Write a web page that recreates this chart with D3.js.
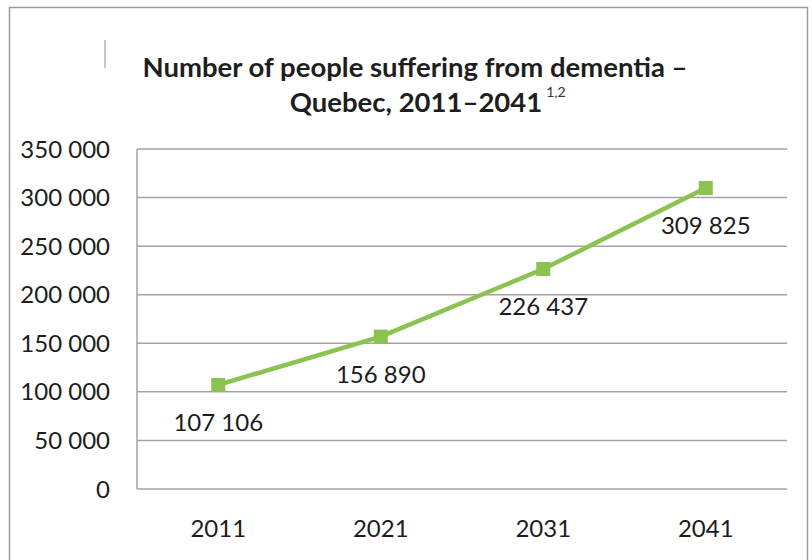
<!DOCTYPE html>
<html>
  <head>
    <meta charset="utf-8">
    <title>Dementia in Quebec</title>
    <script src="https://d3js.org/d3.v7.min.js"></script>
    <style>
      body {
        margin: 0;
        background: #fff;
        font-family: Lato, "Open Sans", sans-serif;
      }
      .grid line {
        stroke: #a3a3a3;
        stroke-width: 1.5px;
      }
      .tick-label {
        font-size: 24px;
        fill: #1c1c1c;
      }
      .title {
        font-size: 27.5px;
        font-weight: bold;
        fill: #1e1e1e;
      }
    </style>
  </head>
  <body>
    <div id="chart"></div>
    <script>
      // data
      const years = ["2011", "2021", "2031", "2041"];
      const people = [107106, 156890, 226437, 309825];
      const yTicks = [0, 50000, 100000, 150000, 200000, 250000, 300000, 350000];

      const width = 812, height = 560;
      const margin = {top: 149, right: 25, bottom: 71, left: 137};

      const svg = d3.select("#chart").append("svg")
        .attr("width", width)
        .attr("height", height);

      // outer frame
      svg.append("rect")
        .attr("x", 9.5).attr("y", 7.5)
        .attr("width", 798).attr("height", 600)
        .attr("fill", "none")
        .attr("stroke", "#9a9a9a")
        .attr("stroke-width", 1.5);
      svg.append("line")
        .attr("x1", 105).attr("x2", 105)
        .attr("y1", 40).attr("y2", 68)
        .attr("stroke", "#b5b5b5").attr("stroke-width", 1.5);

      const x = d3.scaleBand()
        .domain(years)
        .range([margin.left, width - margin.right]);
      const y = d3.scaleLinear()
        .domain([0, 350000])
        .range([height - margin.bottom, margin.top]);

      const fmt = v => d3.format(",")(v).replace(/,/g, " ");

      // gridlines
      svg.append("g").attr("class", "grid")
        .selectAll("line")
        .data(yTicks)
        .join("line")
          .attr("x1", margin.left).attr("x2", width - margin.right)
          .attr("y1", d => y(d)).attr("y2", d => y(d));
      svg.append("line")
        .attr("x1", margin.left).attr("x2", margin.left)
        .attr("y1", y(0)).attr("y2", y(350000))
        .attr("stroke", "#a3a3a3").attr("stroke-width", 1.5);

      // y labels
      svg.append("g")
        .selectAll("text")
        .data(yTicks)
        .join("text")
          .attr("class", "tick-label")
          .attr("x", 110)
          .attr("y", d => y(d))
          .attr("dy", "0.36em")
          .attr("text-anchor", "end")
          .text(fmt);

      // x labels
      svg.append("g")
        .selectAll("text")
        .data(years)
        .join("text")
          .attr("class", "tick-label")
          .attr("x", d => x(d) + x.bandwidth() / 2)
          .attr("y", 537)
          .attr("text-anchor", "middle")
          .text(d => d);

      // series
      const pts = years.map((yr, i) => ({year: yr, value: people[i]}));
      const line = d3.line()
        .x(d => x(d.year) + x.bandwidth() / 2)
        .y(d => y(d.value));
      svg.append("path")
        .datum(pts)
        .attr("d", line)
        .attr("fill", "none")
        .attr("stroke", "#8cc24f")
        .attr("stroke-width", 4.5);
      svg.append("g")
        .selectAll("rect")
        .data(pts)
        .join("rect")
          .attr("x", d => x(d.year) + x.bandwidth() / 2 - 7)
          .attr("y", d => y(d.value) - 7)
          .attr("width", 14).attr("height", 14)
          .attr("fill", "#8cc24f");
      svg.append("g")
        .selectAll("text")
        .data(pts)
        .join("text")
          .attr("class", "tick-label")
          .attr("x", d => x(d.year) + x.bandwidth() / 2)
          .attr("y", d => y(d.value) + 46)
          .attr("text-anchor", "middle")
          .text(d => fmt(d.value));

      // title
      const title = svg.append("text")
        .attr("class", "title")
        .attr("text-anchor", "middle");
      title.append("tspan")
        .attr("x", 415).attr("y", 77)
        .text("Number of people suffering from dementia –");
      const line2 = title.append("tspan")
        .attr("x", 416).attr("y", 112)
        .text("Quebec, 2011–2041");
      // superscript sits just after the end of line 2
      const l2 = line2.node().getComputedTextLength();
      svg.append("text")
        .attr("x", 416 + l2 / 2 + 4).attr("y", 97)
        .attr("font-size", 14)
        .attr("fill", "#333")
        .text("1,2");
    </script>
  </body>
</html>
